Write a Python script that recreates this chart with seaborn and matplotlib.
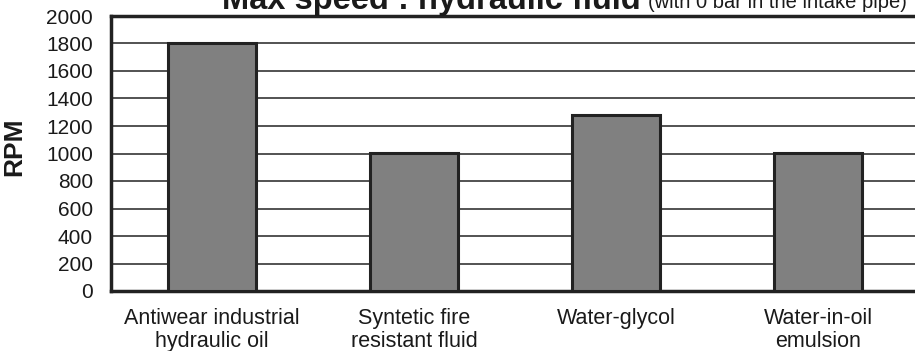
import matplotlib
matplotlib.use("Agg")
import matplotlib.pyplot as plt
import seaborn as sns
import pandas as pd

categories = ["Antiwear industrial\nhydraulic oil", "Syntetic fire\nresistant fluid",
              "Water-glycol", "Water-in-oil\nemulsion"]
rpm = [1800, 1005, 1280, 1005]
yticks = [0, 200, 400, 600, 800, 1000, 1200, 1400, 1600, 1800, 2000]
title_main = "Max speed : hydraulic fluid"
title_sub = "(with 0 bar in the intake pipe)"
ylabel = "RPM"

sns.set_style("white")
plt.rcParams["font.family"] = ["Liberation Sans", "DejaVu Sans"]

df = pd.DataFrame({"fluid": categories, "rpm": rpm})

fig = plt.figure(figsize=(9.15, 3.51), dpi=100)
ax = fig.add_axes([111/915, 1 - 291/351, 808/915, (291 - 16)/351])

sns.barplot(data=df, x="fluid", y="rpm", color="#808080", saturation=1,
            edgecolor="#222222", linewidth=2.2, width=0.44, ax=ax, zorder=3)

ax.set_ylim(0, 2000)
ax.set_xlim(-0.5, 3.5)
ax.set_yticks(yticks)
ax.set_yticklabels([str(v) for v in yticks], fontsize=15, color="#1a1a1a")
ax.tick_params(axis="y", length=0, pad=13)
ax.tick_params(axis="x", length=0, pad=12)
for lbl in ax.get_xticklabels():
    lbl.set_fontsize(15.5)
    lbl.set_linespacing(1.12)
    lbl.set_color("#1a1a1a")
ax.set_xlabel("")
ax.set_ylabel(ylabel, fontsize=19, fontweight="bold", color="#1a1a1a")
ax.yaxis.set_label_coords(-0.105, 0.524)
ax.yaxis.grid(True, color="#444444", linewidth=1.3, zorder=0)
ax.set_axisbelow(True)
for side in ["left", "bottom", "top"]:
    ax.spines[side].set_visible(True)
    ax.spines[side].set_color("#222222")
    ax.spines[side].set_linewidth(2.5)
ax.spines["right"].set_visible(False)

t1 = fig.text(222/915, 1 - 8.5/351, title_main, fontsize=23.5, fontweight="bold",
              ha="left", va="baseline", color="#1a1a1a")
fig.canvas.draw()
bb = t1.get_window_extent(renderer=fig.canvas.get_renderer())
fig.text((bb.x1 + 7) / 915, 1 - 8.5/351, title_sub, fontsize=14.5,
         ha="left", va="baseline", color="#1a1a1a")

fig.savefig("out.png", dpi=100)
